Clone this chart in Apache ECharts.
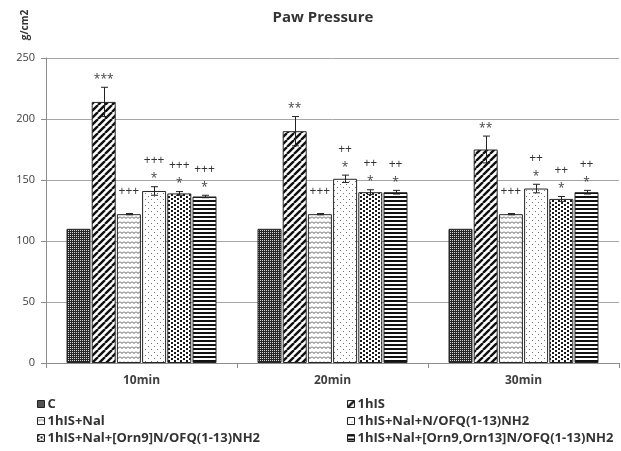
<!DOCTYPE html>
<html>
<head>
<meta charset="utf-8">
<script src="https://cdn.jsdelivr.net/npm/echarts@6/dist/echarts.min.js"></script>
<style>
html, body { margin: 0; padding: 0; background: #fff; }
#chart { width: 621px; height: 451px; }
</style>
</head>
<body>
<div id="chart"></div>
<script>
// ---- data ----
const categories = ['10min', '20min', '30min'];
const seriesNames = [
  'C',
  '1hIS',
  '1hIS+Nal',
  '1hIS+Nal+N/OFQ(1-13)NH2',
  '1hIS+Nal+[Orn9]N/OFQ(1-13)NH2',
  '1hIS+Nal+[Orn9,Orn13]N/OFQ(1-13)NH2'
];
const valuesC      = [110, 110, 110];
const values1hIS   = [214, 190, 175];
const valuesNal    = [122, 122, 122];
const valuesNofq   = [141, 151, 143];
const valuesOrn9   = [139, 140, 134.5];
const valuesOrn913 = [136.5, 140, 140];

const errC      = [0, 0, 0];
const err1hIS   = [12, 12, 11];
const errNal    = [0.5, 0.5, 0.5];
const errNofq   = [3.5, 3, 3.5];
const errOrn9   = [1.5, 2, 2];
const errOrn913 = [1, 1.5, 1.5];

// significance marks: * vs control, + vs 1hIS
const starsC      = ['', '', ''];
const stars1hIS   = ['***', '**', '**'];
const starsNal    = ['', '', ''];
const starsNofq   = ['*', '*', '*'];
const starsOrn9   = ['*', '*', '*'];
const starsOrn913 = ['*', '*', '*'];

const plusC      = ['', '', ''];
const plus1hIS   = ['', '', ''];
const plusNal    = ['+++', '+++', '+++'];
const plusNofq   = ['+++', '++', '++'];
const plusOrn9   = ['+++', '++', '++'];
const plusOrn913 = ['+++', '++', '++'];

const yTicks = [0, 50, 100, 150, 200, 250];

const allValues = [valuesC, values1hIS, valuesNal, valuesNofq, valuesOrn9, valuesOrn913];
const allErrs   = [errC, err1hIS, errNal, errNofq, errOrn9, errOrn913];
const allStars  = [starsC, stars1hIS, starsNal, starsNofq, starsOrn9, starsOrn913];
const allPlus   = [plusC, plus1hIS, plusNal, plusNofq, plusOrn9, plusOrn913];

// ---- fill patterns ----
function makeTile(w, h, draw) {
  const c = document.createElement('canvas');
  c.width = w; c.height = h;
  const g = c.getContext('2d');
  g.fillStyle = '#fff';
  g.fillRect(0, 0, w, h);
  draw(g, w, h);
  return { image: c, repeat: 'repeat' };
}
const patterns = [
  // fine dark grid
  makeTile(2, 2, g => {
    g.fillStyle = '#262626'; g.fillRect(0, 0, 2, 2);
    g.fillStyle = '#d8d8d8'; g.fillRect(0, 0, 1, 1);
  }),
  // wide upward diagonal
  makeTile(7, 7, (g, w, h) => {
    g.strokeStyle = '#111'; g.lineWidth = 2.4; g.beginPath();
    [-w, 0, w].forEach(o => { g.moveTo(o, h); g.lineTo(o + w, 0); });
    g.stroke();
  }),
  // zigzag
  makeTile(4, 5, g => {
    g.strokeStyle = '#555'; g.lineWidth = 1; g.beginPath();
    g.moveTo(0, 1.5); g.lineTo(2, 3.5); g.lineTo(4, 1.5);
    g.stroke();
  }),
  // sparse dots
  makeTile(6, 6, g => {
    g.fillStyle = '#777';
    g.fillRect(1, 1, 1, 1); g.fillRect(4, 4, 1, 1);
  }),
  // dense confetti
  makeTile(6, 4, g => {
    g.fillStyle = '#1a1a1a';
    g.fillRect(0, 0, 2, 2); g.fillRect(3, 2, 2, 2);
  }),
  // horizontal stripes
  makeTile(4, 4, g => {
    g.fillStyle = '#111'; g.fillRect(0, 0, 4, 2);
  })
];

const FONT = '"Open Sans", "DejaVu Sans", sans-serif';
const BAR_W = 24;
const BAR_GAP = 1.2;
const GROUP_W = seriesNames.length * BAR_W + (seriesNames.length - 1) * BAR_GAP;

const barSeries = seriesNames.map((name, i) => ({
  name: name,
  type: 'bar',
  data: allValues[i],
  barWidth: BAR_W,
  barGap: (BAR_GAP / BAR_W * 100) + '%',
  itemStyle: { color: patterns[i], borderColor: '#262626', borderWidth: 1 },
  emphasis: { disabled: true },
  z: 2
}));

const annotData = [];
seriesNames.forEach((n, s) => {
  categories.forEach((c, ci) => {
    annotData.push([ci, s, allValues[s][ci], allErrs[s][ci]]);
  });
});

// error bars with their significance marks above them
function renderAnnot(params, api) {
  const ci = api.value(0), s = api.value(1), m = api.value(2), e = api.value(3);
  const xCenter = api.coord([ci, m])[0] - GROUP_W / 2 + BAR_W / 2 + s * (BAR_W + BAR_GAP);
  const yTop = api.coord([ci, m + e])[1];
  const yBot = api.coord([ci, m - e])[1];
  const children = [];
  const lineStyle = { stroke: '#222', lineWidth: 1 };
  if (e > 0) {
    const xl = Math.round(xCenter) + 0.5;
    children.push({ type: 'line', shape: { x1: xl, y1: yTop, x2: xl, y2: yBot }, style: lineStyle });
    children.push({ type: 'line', shape: { x1: xl - 3.5, y1: yTop, x2: xl + 3.5, y2: yTop }, style: lineStyle });
    children.push({ type: 'line', shape: { x1: xl - 3.5, y1: yBot, x2: xl + 3.5, y2: yBot }, style: lineStyle });
  }
  const star = allStars[s][ci];
  const plus = allPlus[s][ci];
  const yStar = yTop - 11;
  if (star) {
    children.push({
      type: 'text', x: xCenter, y: yStar + 3,
      style: { text: star, align: 'center', verticalAlign: 'middle', fill: '#444', font: '12px ' + FONT }
    });
  }
  if (plus) {
    children.push({
      type: 'text', x: xCenter, y: star ? yStar - 15 : yTop - 22,
      style: { text: plus, align: 'center', verticalAlign: 'middle', fill: '#333', font: '12px ' + FONT }
    });
  }
  return { type: 'group', children: children };
}

const legendBase = {
  orient: 'vertical',
  top: 397,
  padding: 0,
  height: 60,
  itemWidth: 7,
  itemHeight: 7,
  itemGap: 3,
  icon: 'rect',
  selectedMode: false,
  itemStyle: { borderColor: '#222', borderWidth: 1 },
  textStyle: { fontFamily: FONT, fontWeight: 'bold', fontSize: 13, color: '#333', lineHeight: 14, padding: [0, 0, 0, -2] }
};

const chart = echarts.init(document.getElementById('chart'));
chart.setOption({
  animation: false,
  backgroundColor: '#fff',
  grid: { left: 46, right: 2, top: 58, bottom: 88, containLabel: false },
  graphic: [
    {
      type: 'text', x: 323, y: 18,
      style: { text: 'Paw Pressure', align: 'center', verticalAlign: 'middle', fill: '#333', font: 'bold 15px ' + FONT }
    },
    {
      type: 'text', x: 25, y: 25, rotation: Math.PI / 2,
      style: { text: 'g/cm2', align: 'center', verticalAlign: 'middle', fill: '#333', font: 'bold 10px ' + FONT }
    }
  ],
  legend: [
    Object.assign({}, legendBase, { left: 37, data: [seriesNames[0], seriesNames[2], seriesNames[4]] }),
    Object.assign({}, legendBase, { left: 347, data: [seriesNames[1], seriesNames[3], seriesNames[5]] })
  ],
  xAxis: {
    type: 'category',
    data: categories,
    axisLine: { lineStyle: { color: '#8c8c8c' } },
    axisTick: { show: true, length: 5, lineStyle: { color: '#8c8c8c' } },
    axisLabel: { fontFamily: FONT, fontWeight: 'bold', fontSize: 12, color: '#404040', margin: 12 }
  },
  yAxis: {
    type: 'value',
    min: yTicks[0],
    max: yTicks[yTicks.length - 1],
    interval: yTicks[1] - yTicks[0],
    axisLine: { show: true, lineStyle: { color: '#8c8c8c' } },
    axisTick: { show: true, length: 5, lineStyle: { color: '#8c8c8c' } },
    splitLine: { lineStyle: { color: '#a6a6a6' } },
    axisLabel: { fontFamily: FONT, fontSize: 11, color: '#404040', margin: 11 }
  },
  series: barSeries.concat([{
    type: 'custom',
    name: 'annotations',
    data: annotData,
    encode: { x: 0, y: 2 },
    renderItem: renderAnnot,
    silent: true,
    z: 5
  }])
});
</script>
</body>
</html>
